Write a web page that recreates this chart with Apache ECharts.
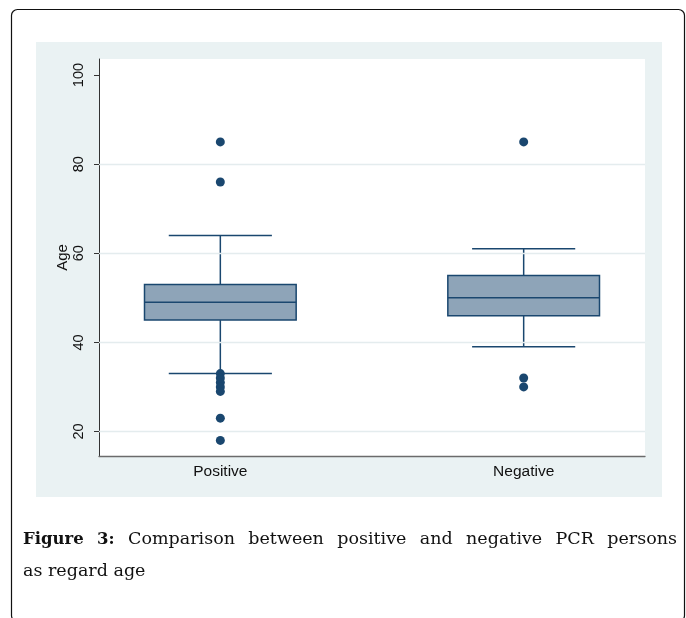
<!DOCTYPE html>
<html>
<head>
<meta charset="utf-8">
<script src="https://cdn.jsdelivr.net/npm/echarts@6/dist/echarts.min.js"></script>
<style>
html,body{margin:0;padding:0;background:#fff;}
#c{width:686px;height:618px;}
</style>
</head>
<body>
<div id="c"></div>
<script>
// ---- data ----
const categories = ['Positive', 'Negative'];
const lowerWhisker = [33, 39];
const q1 = [45, 46];
const median = [49, 50];
const q3 = [53, 55];
const upperWhisker = [64, 61];
const positiveOutliers = [85, 76, 33, 32, 31, 30, 29, 23, 18];
const negativeOutliers = [85, 32, 30];
const yTicks = [20, 40, 60, 80, 100];
const gridValues = [20, 40, 60, 80];
const yTitle = 'Age';
const captionBold = ['Figure', '3:'];
const captionRest1 = ['Comparison', 'between', 'positive', 'and', 'negative', 'PCR', 'persons'];
const captionLine2 = 'as regard age';

const NAVY = '#1a476f';
const FILL = '#8ea4b8';
const CAP_FONT = '17.5px "DejaVu Serif"';
const CAP_BOLD = 'bold 16.5px "DejaVu Serif"';

const boxData = categories.map((c, i) => [i + 1, lowerWhisker[i], q1[i], median[i], q3[i], upperWhisker[i]]);
const outlierData = []
  .concat(positiveOutliers.map(v => [1, v]))
  .concat(negativeOutliers.map(v => [2, v]));

// justified first caption line
const mctx = document.createElement('canvas').getContext('2d');
const words = captionBold.map(w => ({w, font: CAP_BOLD})).concat(captionRest1.map(w => ({w, font: CAP_FONT})));
words.forEach(o => { mctx.font = o.font; o.width = mctx.measureText(o.w).width; });
const lineLeft = 23, lineRight = 677;
const totalW = words.reduce((s, o) => s + o.width, 0);
const gap = (lineRight - lineLeft - totalW) / (words.length - 1);
let cursor = lineLeft;
const captionGraphics = words.map(o => {
  const g = {type: 'text', z: 10, x: cursor, y: 548, style: {text: o.w, font: o.font, fill: '#111', verticalAlign: 'bottom'}};
  cursor += o.width + gap;
  return g;
});

const chart = echarts.init(document.getElementById('c'), null, {renderer: 'canvas'});

function renderBox(params, api) {
  const x = api.value(0);
  const pLW = api.coord([x, api.value(1)]);
  const pQ1 = api.coord([x, api.value(2)]);
  const pMd = api.coord([x, api.value(3)]);
  const pQ3 = api.coord([x, api.value(4)]);
  const pUW = api.coord([x, api.value(5)]);
  const boxW = api.size([0.5, 0])[0];
  const capW = api.size([0.34, 0])[0];
  const cx = pMd[0];
  const ls = {stroke: NAVY, lineWidth: 1.5};
  return {
    type: 'group',
    children: [
      {type: 'line', shape: {x1: cx, y1: pQ3[1], x2: cx, y2: pUW[1]}, style: ls},
      {type: 'line', shape: {x1: cx, y1: pQ1[1], x2: cx, y2: pLW[1]}, style: ls},
      {type: 'line', shape: {x1: cx - capW / 2, y1: pUW[1], x2: cx + capW / 2, y2: pUW[1]}, style: ls},
      {type: 'line', shape: {x1: cx - capW / 2, y1: pLW[1], x2: cx + capW / 2, y2: pLW[1]}, style: ls},
      {type: 'rect', shape: {x: cx - boxW / 2, y: pQ3[1], width: boxW, height: pQ1[1] - pQ3[1]},
        style: {fill: FILL, stroke: NAVY, lineWidth: 1.5}},
      {type: 'line', shape: {x1: cx - boxW / 2, y1: pMd[1], x2: cx + boxW / 2, y2: pMd[1]}, style: ls}
    ]
  };
}

const option = {
  animation: false,
  backgroundColor: '#ffffff',
  graphic: [
    {type: 'rect', z: -20, silent: true,
      shape: {x: 11.5, y: 9.5, width: 673, height: 612, r: 6},
      style: {fill: '#ffffff', stroke: '#111111', lineWidth: 1.2}},
    {type: 'rect', z: -19, silent: true,
      shape: {x: 36, y: 42, width: 626, height: 455},
      style: {fill: '#eaf2f3'}},
    {type: 'rect', z: -18, silent: true,
      shape: {x: 99, y: 59, width: 546, height: 397},
      style: {fill: '#ffffff'}},
    {type: 'text', z: 10, x: 23, y: 580,
      style: {text: captionLine2, font: CAP_FONT, fill: '#111', verticalAlign: 'bottom'}}
  ].concat(captionGraphics),
  grid: {left: 99, top: 59, right: 686 - 645, bottom: 618 - 456, show: false},
  xAxis: {
    type: 'value', min: 0.6, max: 2.4,
    axisLine: {show: true, onZero: false, lineStyle: {color: '#6b6b6b', width: 1.3}},
    axisTick: {show: false},
    splitLine: {show: false},
    axisLabel: {
      customValues: [1, 2],
      formatter: v => categories[Math.round(v) - 1] || '',
      color: '#111', fontSize: 15.5, fontFamily: 'Liberation Sans, Arial, sans-serif', margin: 8
    }
  },
  yAxis: {
    type: 'value', min: 14.5, max: 103.6,
    name: yTitle, nameLocation: 'middle', nameGap: 29, nameRotate: 90, nameMoveOverlap: false,
    nameTextStyle: {color: '#111', fontSize: 15, fontFamily: 'Liberation Sans, Arial, sans-serif'},
    axisLine: {show: true, onZero: false, lineStyle: {color: '#333', width: 1}},
    axisTick: {show: true, customValues: yTicks, length: 5, lineStyle: {color: '#333'}},
    splitLine: {show: false},
    axisLabel: {
      customValues: yTicks, rotate: 90, margin: 13,
      color: '#111', fontSize: 14.5, fontFamily: 'Liberation Sans, Arial, sans-serif'
    }
  },
  series: [
    {
      type: 'line', data: [], z: 1, silent: true,
      markLine: {
        silent: true, symbol: ['none', 'none'], label: {show: false}, animation: false,
        lineStyle: {color: '#e4ecee', width: 1.3, type: 'solid'},
        data: gridValues.map(v => ({yAxis: v}))
      }
    },
    {
      type: 'custom', z: 3, renderItem: renderBox, data: boxData,
      encode: {x: 0, y: [1, 2, 3, 4, 5]}
    },
    {
      type: 'scatter', z: 4, data: outlierData, symbol: 'circle', symbolSize: 9,
      itemStyle: {color: NAVY, opacity: 1}
    }
  ]
};
chart.setOption(option);
</script>
</body>
</html>
